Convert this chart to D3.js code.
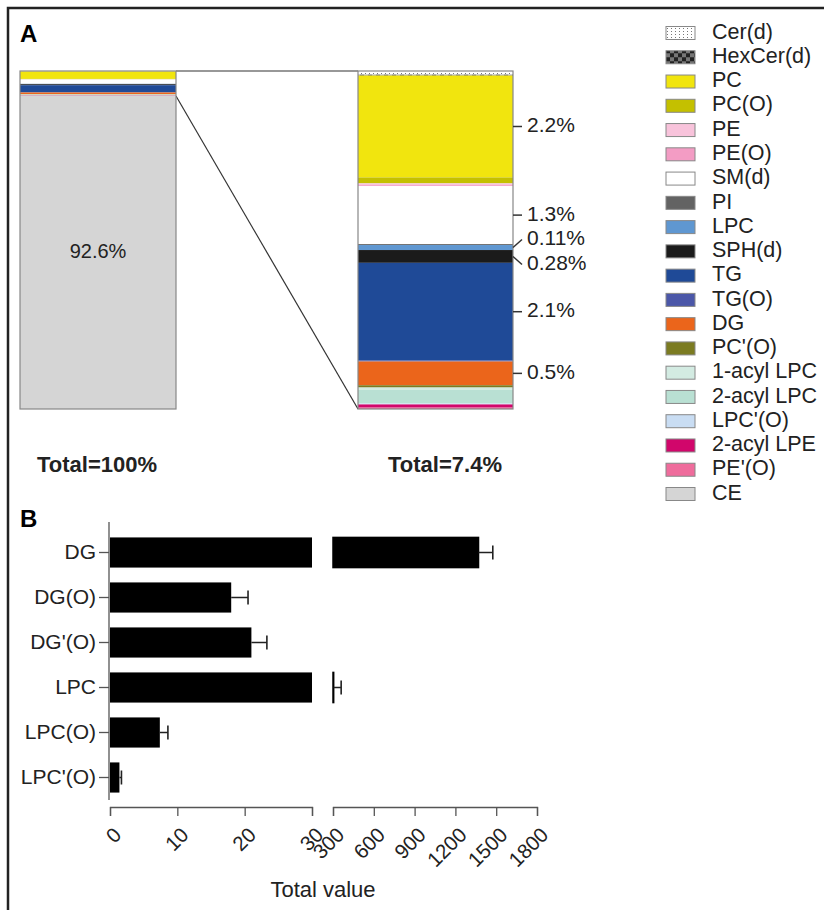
<!DOCTYPE html>
<html>
<head>
<meta charset="utf-8">
<script src="https://cdn.jsdelivr.net/npm/d3@7"></script>
<style>
  body { margin: 0; background: #fff; }
  svg { display: block; font-family: "Liberation Sans", Arial, sans-serif; }
</style>
</head>
<body>
<div id="chart"></div>
<script>
// lipid classes, share of total (%), stacked from top
const classes = ["Cer(d)", "HexCer(d)", "PC", "PC(O)", "PE", "PE(O)", "SM(d)", "PI", "LPC", "SPH(d)",
  "TG", "TG(O)", "DG", "PC'(O)", "1-acyl LPC", "2-acyl LPC", "LPC'(O)", "2-acyl LPE", "PE'(O)", "CE"];
const shares = [0.08, 0.02, 2.23, 0.13, 0.04, 0.02, 1.27, 0.02, 0.11, 0.28,
  2.14, 0.02, 0.52, 0.05, 0.05, 0.30, 0.02, 0.07, 0.03, 92.6];
const fills = ["url(#dots)", "url(#checker)", "#f1e50e", "#c4c000", "#f8c3db", "#f39cc4", "#ffffff", "#636363", "#5f97d1", "#1b1b1b",
  "#1f4a97", "#4b57a8", "#eb651b", "#7b7b21", "#d3ebe2", "#b9e0d3", "#c9ddf3", "#d1066b", "#ef6c9c", "#d5d5d5"];

const labelClasses = ["PC", "SM(d)", "LPC", "SPH(d)", "TG", "DG"];
const labelTexts = ["2.2%", "1.3%", "0.11%", "0.28%", "2.1%", "0.5%"];
const bigLabel = "92.6%";
const totals = ["Total=100%", "Total=7.4%"];

// panel B
const bCats = ["DG", "DG(O)", "DG'(O)", "LPC", "LPC(O)", "LPC'(O)"];
const bMeans = [1370, 18, 21, 305, 7.4, 1.4];
const bErrs = [105, 2.5, 2.3, 55, 1.2, 0.3];
const lowTicks = [0, 10, 20, 30];
const highTicks = [300, 600, 900, 1200, 1500, 1800];

const W = 824, H = 910;
const svg = d3.select("#chart").append("svg").attr("width", W).attr("height", H);

const defs = svg.append("defs");
const dots = defs.append("pattern").attr("id", "dots").attr("patternUnits", "userSpaceOnUse")
  .attr("width", 4).attr("height", 3);
dots.append("rect").attr("width", 4).attr("height", 3).attr("fill", "#fff");
dots.append("rect").attr("x", 1).attr("y", 1).attr("width", 1).attr("height", 1).attr("fill", "#777");
const checker = defs.append("pattern").attr("id", "checker").attr("patternUnits", "userSpaceOnUse")
  .attr("width", 8).attr("height", 8);
checker.append("rect").attr("width", 8).attr("height", 8).attr("fill", "#777");
checker.append("rect").attr("width", 4).attr("height", 4).attr("fill", "#222");
checker.append("rect").attr("x", 4).attr("y", 4).attr("width", 4).attr("height", 4).attr("fill", "#222");

// frame
svg.append("path").attr("d", `M8,${H} V8 H${W}`).attr("fill", "none").attr("stroke", "#222").attr("stroke-width", 2.5);

svg.append("text").attr("x", 20).attr("y", 42).attr("font-size", 24).attr("font-weight", "bold").text("A");
svg.append("text").attr("x", 20).attr("y", 527).attr("font-size", 24).attr("font-weight", "bold").text("B");

// ---- panel A: stacked bars ----
const rows = classes.map((c, i) => ({ name: c, value: shares[i], fill: fills[i] }));
let acc = 0;
rows.forEach(d => { d.y0 = acc; acc += d.value; d.y1 = acc; });
const zoomTotal = d3.sum(rows.filter(d => d.name !== "CE"), d => d.value);

const barTop = 71, barBottom = 409;
const yLeft = d3.scaleLinear().domain([0, 100]).range([barTop, barBottom]);
const yRight = d3.scaleLinear().domain([0, zoomTotal]).range([barTop, barBottom]);
const leftX = [20, 176], rightX = [358, 513];

const gA = svg.append("g");

// connector lines
const ce = rows.find(d => d.name === "CE");
gA.append("line").attr("x1", leftX[1]).attr("x2", rightX[0]).attr("y1", yLeft(0)).attr("y2", yRight(0))
  .attr("stroke", "#333").attr("stroke-width", 1.2);
gA.append("line").attr("x1", leftX[1]).attr("x2", rightX[0]).attr("y1", yLeft(ce.y0)).attr("y2", yRight(zoomTotal))
  .attr("stroke", "#333").attr("stroke-width", 1.2);

gA.append("g").selectAll("rect").data(rows).join("rect")
  .attr("x", leftX[0]).attr("width", leftX[1] - leftX[0])
  .attr("y", d => yLeft(d.y0)).attr("height", d => yLeft(d.y1) - yLeft(d.y0))
  .attr("fill", d => d.fill);
gA.append("rect").attr("x", leftX[0]).attr("y", barTop).attr("width", leftX[1] - leftX[0]).attr("height", barBottom - barTop)
  .attr("fill", "none").attr("stroke", "#888").attr("stroke-width", 1.2);

gA.append("g").selectAll("rect").data(rows.filter(d => d.name !== "CE")).join("rect")
  .attr("x", rightX[0]).attr("width", rightX[1] - rightX[0])
  .attr("y", d => yRight(d.y0)).attr("height", d => yRight(d.y1) - yRight(d.y0))
  .attr("fill", d => d.fill);
gA.append("rect").attr("x", rightX[0]).attr("y", barTop).attr("width", rightX[1] - rightX[0]).attr("height", barBottom - barTop)
  .attr("fill", "none").attr("stroke", "#888").attr("stroke-width", 1.2);

gA.append("text").attr("x", (leftX[0] + leftX[1]) / 2).attr("y", (yLeft(ce.y0) + yLeft(ce.y1)) / 2)
  .attr("text-anchor", "middle").attr("dominant-baseline", "middle").attr("font-size", 20).attr("fill", "#222")
  .text(bigLabel);

// percent labels on the zoomed bar, spread apart where they crowd
const labs = labelClasses.map((c, i) => {
  const r = rows.find(d => d.name === c);
  const mid = (yRight(r.y0) + yRight(r.y1)) / 2;
  return { mid, y: mid, text: labelTexts[i] };
});
const minGap = 25;
for (let i = 1; i < labs.length; i++) {
  const a = labs[i - 1], b = labs[i];
  if (b.y - a.y < minGap) {
    const c = (a.y + b.y) / 2;
    a.y = c - minGap / 2; b.y = c + minGap / 2;
  }
}
const lg = gA.append("g");
lg.selectAll("path").data(labs).join("path")
  .attr("d", d => `M${rightX[1]},${d.mid} L${rightX[1] + 9},${d.y}`)
  .attr("stroke", "#333").attr("stroke-width", 1.5).attr("fill", "none");
lg.selectAll("text").data(labs).join("text")
  .attr("x", rightX[1] + 14).attr("y", d => d.y).attr("dominant-baseline", "middle")
  .attr("font-size", 21).attr("fill", "#222").text(d => d.text);

gA.selectAll("text.total").data(totals).join("text").attr("class", "total")
  .attr("x", (d, i) => i === 0 ? 97 : 445).attr("y", 472).attr("text-anchor", "middle")
  .attr("font-size", 22).attr("font-weight", "bold").attr("fill", "#222").text(d => d);

// legend
const legY = d3.scalePoint().domain(classes).range([33, 494]);
const leg = svg.append("g").selectAll("g").data(rows).join("g")
  .attr("transform", d => `translate(666,${legY(d.name)})`);
leg.append("rect").attr("x", 0).attr("y", -6.5).attr("width", 29).attr("height", 13)
  .attr("fill", d => d.fill).attr("stroke", "#888").attr("stroke-width", 1);
leg.append("text").attr("x", 46).attr("y", 0).attr("dominant-baseline", "middle")
  .attr("font-size", 21.5).attr("fill", "#222").text(d => d.name);

// ---- panel B: broken-axis bar chart ----
const gB = svg.append("g");
const y = d3.scaleBand().domain(bCats).range([530, 800]).paddingInner(0.33).paddingOuter(0.165);
const xLo = d3.scaleLinear().domain([0, 30]).range([110, 312]);
const xHi = d3.scaleLinear().domain([300, 1800]).range([333, 537]);
const bData = bCats.map((c, i) => ({ cat: c, mean: bMeans[i], err: bErrs[i] }));
const xOf = v => v <= 30 ? xLo(v) : xHi(v);

gB.append("g").selectAll("rect").data(bData).join("rect")
  .attr("x", xLo(0)).attr("y", d => y(d.cat)).attr("height", y.bandwidth())
  .attr("width", d => xLo(Math.min(d.mean, 30)) - xLo(0))
  .attr("fill", "#000");
gB.append("g").selectAll("rect").data(bData.filter(d => d.mean > 300)).join("rect")
  .attr("x", xHi(300)).attr("y", d => y(d.cat)).attr("height", y.bandwidth())
  .attr("width", d => Math.max(xHi(d.mean) - xHi(300), 0))
  .attr("fill", "#000").attr("stroke", "#000").attr("stroke-width", 1.5);

const eb = gB.append("g").attr("stroke", "#222").attr("stroke-width", 1.6).attr("fill", "none");
eb.selectAll("path").data(bData).join("path")
  .attr("d", d => {
    const cy = y(d.cat) + y.bandwidth() / 2;
    const x0 = xOf(d.mean), x1 = xOf(d.mean + d.err);
    return `M${x0},${cy} H${x1} M${x1},${cy - 7} V${cy + 7}`;
  });

// y axis
const yAxis = gB.append("g").attr("transform", "translate(109,0)")
  .call(d3.axisLeft(y).tickSize(10).tickSizeOuter(0).tickPadding(3));
yAxis.select(".domain").attr("d", "M0,522 V800");
yAxis.selectAll("line, path").attr("stroke", "#555").attr("stroke-width", 1.3);
yAxis.selectAll("text").attr("font-size", 21).attr("fill", "#222").attr("font-family", null);

// x axes (two segments)
function styleX(g) {
  g.selectAll("line, path").attr("stroke", "#555").attr("stroke-width", 1.3);
  g.selectAll("text").attr("font-size", 20.5).attr("fill", "#222").attr("font-family", null)
    .attr("x", 0).attr("y", 0).attr("text-anchor", "end").attr("dy", "0.35em")
    .attr("transform", "translate(7,24) rotate(-45)");
}
gB.append("g").attr("transform", "translate(0,807)")
  .call(d3.axisBottom(xLo).tickValues(lowTicks).tickFormat(d3.format("d")).tickSize(9).tickSizeOuter(9))
  .call(styleX);
gB.append("g").attr("transform", "translate(0,807)")
  .call(d3.axisBottom(xHi).tickValues(highTicks).tickFormat(d3.format("d")).tickSize(9).tickSizeOuter(9))
  .call(styleX);

gB.append("text").attr("x", 323).attr("y", 897).attr("text-anchor", "middle")
  .attr("font-size", 22).attr("fill", "#222").text("Total value");
</script>
</body>
</html>
